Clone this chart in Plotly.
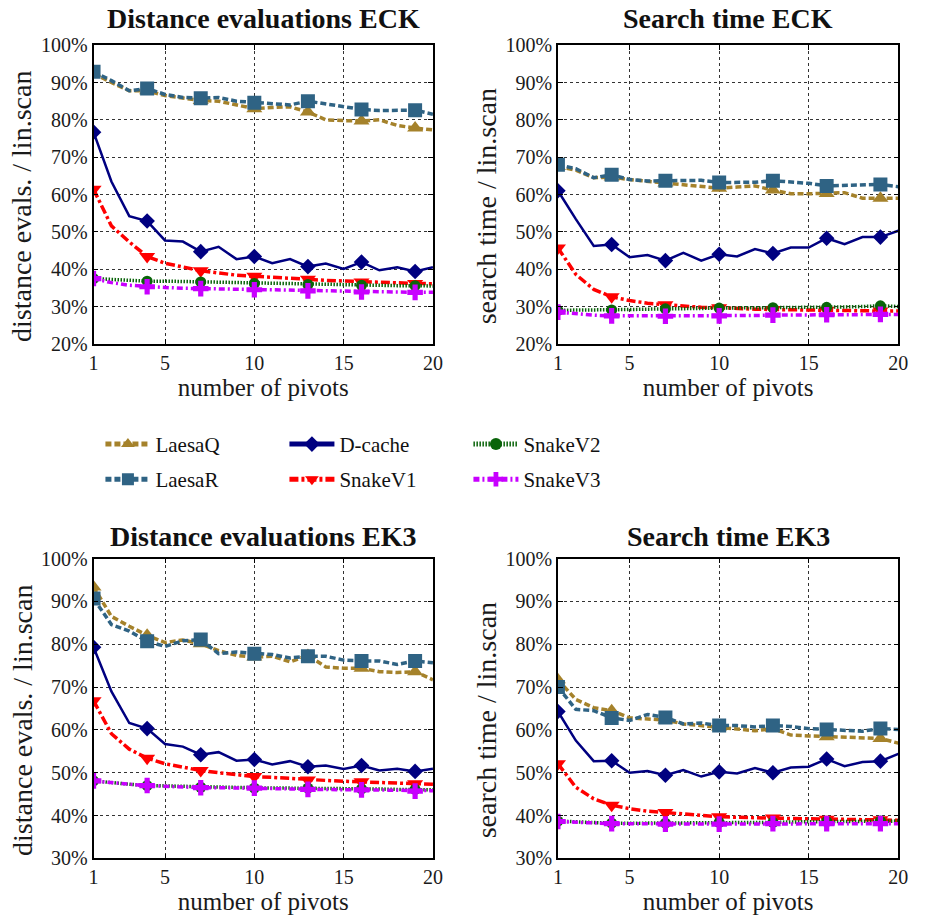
import plotly.graph_objects as go

pivots = list(range(1, 21))

# ---- Distance evaluations ECK (%)
d_eck = {
    "LaesaQ": [92.5, 90.0, 87.8, 87.8, 86.5, 85.8, 85.2, 85.0, 84.0, 83.0, 83.3, 83.5, 82.1, 80.0, 79.8, 79.7, 80.0, 78.5, 77.8, 77.3],
    "LaesaR": [92.9, 90.5, 87.8, 88.4, 86.8, 86.0, 85.8, 86.0, 85.0, 84.6, 84.2, 84.0, 85.0, 84.3, 83.4, 82.8, 82.5, 82.5, 82.6, 81.5],
    "D-cache": [76.7, 63.5, 54.2, 52.9, 47.7, 47.4, 44.7, 46.0, 42.7, 43.4, 41.6, 42.7, 40.7, 41.5, 40.1, 41.9, 39.7, 40.5, 39.4, 40.5],
    "SnakeV1": [61.4, 51.6, 47.3, 43.4, 41.6, 40.7, 39.6, 39.0, 38.4, 38.1, 37.9, 37.5, 37.3, 37.0, 36.8, 36.6, 36.5, 36.3, 36.2, 36.1],
    "SnakeV2": [37.5, 37.2, 37.0, 36.8, 36.8, 36.7, 36.6, 36.5, 36.3, 36.2, 36.1, 36.0, 35.9, 35.8, 35.8, 35.7, 35.7, 35.6, 35.6, 35.5],
    "SnakeV3": [37.5, 36.4, 35.7, 35.3, 35.1, 34.9, 34.8, 34.7, 34.6, 34.5, 34.4, 34.3, 34.2, 34.1, 34.0, 33.9, 33.9, 33.8, 33.8, 33.8],
}
# ---- Search time ECK (%)
t_eck = {
    "LaesaQ": [67.5, 66.5, 64.5, 64.7, 64.0, 63.5, 63.1, 62.5, 62.0, 61.7, 62.0, 62.3, 61.2, 60.2, 60.2, 60.3, 60.5, 59.0, 59.0, 59.0],
    "LaesaR": [68.0, 66.9, 64.5, 65.3, 64.0, 63.6, 63.7, 63.7, 63.8, 63.2, 63.3, 63.3, 63.7, 63.4, 63.0, 62.3, 62.5, 62.5, 62.7, 62.1],
    "D-cache": [61.0, 53.4, 46.2, 46.6, 43.2, 43.8, 42.3, 44.4, 42.3, 44.0, 43.4, 45.4, 44.2, 45.8, 45.8, 48.3, 46.7, 48.6, 48.6, 50.3],
    "SnakeV1": [45.7, 38.6, 34.6, 32.6, 31.6, 30.9, 30.5, 30.1, 29.8, 29.7, 29.4, 29.3, 29.2, 29.1, 29.1, 29.0, 28.9, 28.8, 28.8, 28.8],
    "SnakeV2": [29.0, 29.0, 29.1, 29.1, 29.2, 29.3, 29.4, 29.4, 29.5, 29.6, 29.6, 29.7, 29.7, 29.7, 29.8, 29.8, 29.9, 30.0, 30.2, 30.0],
    "SnakeV3": [28.5, 28.0, 27.7, 27.5, 27.5, 27.4, 27.4, 27.4, 27.5, 27.5, 27.5, 27.6, 27.7, 27.7, 27.8, 27.8, 27.8, 27.9, 27.9, 27.9],
}
# ---- Distance evaluations EK3 (%)
d_ek3 = {
    "LaesaQ": [93.4, 86.5, 84.2, 82.1, 80.4, 81.0, 80.1, 78.5, 77.4, 77.0, 77.2, 75.9, 77.4, 74.7, 74.4, 74.4, 73.6, 73.4, 73.6, 71.7],
    "LaesaR": [90.7, 84.6, 83.1, 80.7, 79.5, 80.8, 81.1, 77.8, 78.2, 77.8, 77.6, 76.8, 77.2, 77.2, 76.3, 76.1, 76.1, 75.3, 76.1, 75.7],
    "D-cache": [79.3, 69.0, 61.6, 60.3, 56.7, 56.1, 54.2, 54.8, 52.8, 53.1, 51.9, 52.7, 51.4, 51.7, 50.9, 51.7, 50.5, 50.9, 50.3, 50.9],
    "SnakeV1": [66.8, 59.1, 55.5, 53.4, 52.1, 51.3, 50.5, 50.0, 49.5, 49.1, 48.9, 48.6, 48.3, 48.2, 48.0, 47.9, 47.7, 47.6, 47.4, 47.3],
    "SnakeV2": [48.1, 47.6, 47.3, 47.0, 46.9, 46.7, 46.6, 46.5, 46.5, 46.4, 46.4, 46.4, 46.4, 46.3, 46.3, 46.2, 46.2, 46.1, 46.1, 46.0],
    "SnakeV3": [48.1, 47.6, 47.3, 47.0, 46.8, 46.6, 46.5, 46.5, 46.4, 46.4, 46.3, 46.2, 46.1, 46.1, 46.0, 46.0, 45.9, 45.8, 45.7, 45.8],
}
# ---- Search time EK3 (%)
t_ek3 = {
    "LaesaQ": [71.7, 67.1, 65.2, 64.5, 62.8, 62.6, 62.3, 61.4, 61.0, 60.7, 60.3, 59.8, 60.3, 58.8, 58.6, 58.4, 58.2, 58.2, 58.0, 56.9],
    "LaesaR": [70.0, 64.8, 64.5, 62.8, 62.2, 63.6, 62.9, 61.4, 61.6, 61.0, 61.0, 60.7, 61.0, 60.8, 60.3, 60.1, 59.9, 59.7, 60.3, 60.1],
    "D-cache": [64.3, 57.5, 52.7, 52.8, 50.0, 50.4, 49.4, 50.6, 49.1, 50.2, 49.8, 51.1, 50.0, 51.2, 51.4, 53.2, 51.5, 52.5, 52.7, 54.4],
    "SnakeV1": [52.1, 46.6, 43.9, 42.4, 41.6, 41.0, 40.7, 40.3, 40.0, 39.7, 39.6, 39.4, 39.4, 39.3, 39.2, 39.1, 39.1, 39.0, 39.0, 38.9],
    "SnakeV2": [38.7, 38.5, 38.3, 38.2, 38.2, 38.2, 38.2, 38.3, 38.3, 38.4, 38.4, 38.4, 38.4, 38.5, 38.5, 38.6, 38.6, 38.7, 38.7, 38.7],
    "SnakeV3": [38.6, 38.4, 38.2, 38.1, 38.1, 38.0, 38.0, 38.0, 38.0, 38.0, 38.0, 38.1, 38.1, 38.1, 38.1, 38.1, 38.1, 38.1, 38.1, 38.1],
}

series = ["LaesaQ", "LaesaR", "D-cache", "SnakeV1", "SnakeV2", "SnakeV3"]
x_ticks = [1, 5, 10, 15, 20]

panel_titles = ["Distance evaluations ECK", "Search time ECK",
                "Distance evaluations EK3", "Search time EK3"]
y_titles = ["distance evals. / lin.scan", "search time / lin.scan",
            "distance evals. / lin.scan", "search time / lin.scan"]
x_title = "number of pivots"

styles = {
    "LaesaQ": dict(color="#A5822B", dash="6px,3px", width=3.5, symbol="triangle-up", size=14, legend="legend", rank=1),
    "D-cache": dict(color="#000080", dash="solid", width=2.5, symbol="diamond", size=12, legend="legend", rank=2),
    "SnakeV2": dict(color="#0A640A", dash="1.5px,1.5px", width=3.5, symbol="circle", size=11, legend="legend", rank=3),
    "LaesaR": dict(color="#2F6384", dash="6px,3px", width=3.5, symbol="square", size=14, legend="legend2", rank=1),
    "SnakeV1": dict(color="#FF0000", dash="9px,3px,3px,3px", width=3.5, symbol="triangle-down", size=14, legend="legend2", rank=2),
    "SnakeV3": dict(color="#C800FF", dash="6px,3px,2px,3px", width=3.5, symbol="cross", size=13, legend="legend2", rank=3),
}

W, H = 928, 924
xdoms = [[90 / W, 435 / W], [562 / W, 908 / W]]
ydoms = [[1 - 341 / H, 1 - 35 / H], [1 - 868 / H, 1 - 561 / H]]
yranges = [[20, 100], [20, 100], [30, 100], [30, 100]]
datasets = [d_eck, t_eck, d_ek3, t_ek3]

SERIF = "Liberation Serif"
TXT = "#1a1a1a"
fig = go.Figure()

for p in range(4):
    ax = "" if p == 0 else str(p + 1)
    data = datasets[p]
    for name in series:
        st = styles[name]
        sizes = [st["size"] if (i % 3 == 0) else 0 for i in range(len(pivots))]
        fig.add_trace(go.Scatter(
            x=pivots, y=data[name], name=name,
            mode="lines+markers",
            line=dict(color=st["color"], dash=st["dash"], width=st["width"]),
            marker=dict(symbol=st["symbol"], size=sizes, color=st["color"],
                        opacity=1, line=dict(width=0)),
            xaxis="x" + ax, yaxis="y" + ax,
            showlegend=(p == 0), legend=st["legend"], legendrank=st["rank"],
            hoverinfo="skip",
        ))

axis_common = dict(
    showline=True, mirror="ticks", linecolor="black", linewidth=1.5,
    ticks="inside", ticklen=5, tickwidth=1.2, tickcolor="black",
    showgrid=True, gridcolor="#333333", gridwidth=1, griddash="dot",
    zeroline=False, tickfont=dict(family=SERIF, size=20, color=TXT),
)

layout = dict(width=W, height=H, margin=dict(l=0, r=0, t=0, b=0),
              plot_bgcolor="white", paper_bgcolor="white",
              font=dict(family=SERIF, color=TXT))
annotations = []
for p in range(4):
    ax = "" if p == 0 else str(p + 1)
    col, row = p % 2, p // 2
    layout["xaxis" + ax] = dict(
        axis_common, domain=xdoms[col], range=[1, 20], tickvals=x_ticks,
        ticktext=[str(v) for v in x_ticks],
        anchor="y" + ax,
        title=dict(text=x_title, font=dict(family=SERIF, size=25, color=TXT), standoff=0),
    )
    lo, hi = yranges[p]
    yvals = list(range(lo, hi + 1, 10))
    layout["yaxis" + ax] = dict(
        axis_common, domain=ydoms[row], range=[lo, hi],
        tickvals=yvals, ticktext=[f"{v}%" for v in yvals],
        anchor="x" + ax,
    )
    ycenter = sum(ydoms[row]) / 2 - 12 / H
    annotations.append(dict(
        text=y_titles[p], textangle=-90, x=(17 if col == 0 else 489) / W, xref="paper",
        y=ycenter, yref="paper", xanchor="center", yanchor="middle", showarrow=False,
        font=dict(family=SERIF, size=28, color=TXT),
    ))
    annotations.append(dict(
        text="<b>" + panel_titles[p] + "</b>", x=sum(xdoms[col]) / 2, xref="paper",
        y=(1 - 8 / H) if row == 0 else (1 - 538 / H), yref="paper",
        xanchor="center", yanchor="middle", showarrow=False,
        font=dict(family=SERIF, size=28, color="#111111"),
    ))

legend_common = dict(
    orientation="h", xanchor="left", yanchor="middle",
    entrywidthmode="pixels", entrywidth=124, itemwidth=45,
    font=dict(family=SERIF, size=21, color="#111111"),
    bgcolor="rgba(0,0,0,0)", itemsizing="constant",
)
layout["legend"] = dict(legend_common, x=97 / W, y=1 - 444 / H)
layout["legend2"] = dict(legend_common, x=97 / W, y=1 - 480 / H)
layout["annotations"] = annotations
fig.update_layout(**layout)

fig.write_html("out.html")
